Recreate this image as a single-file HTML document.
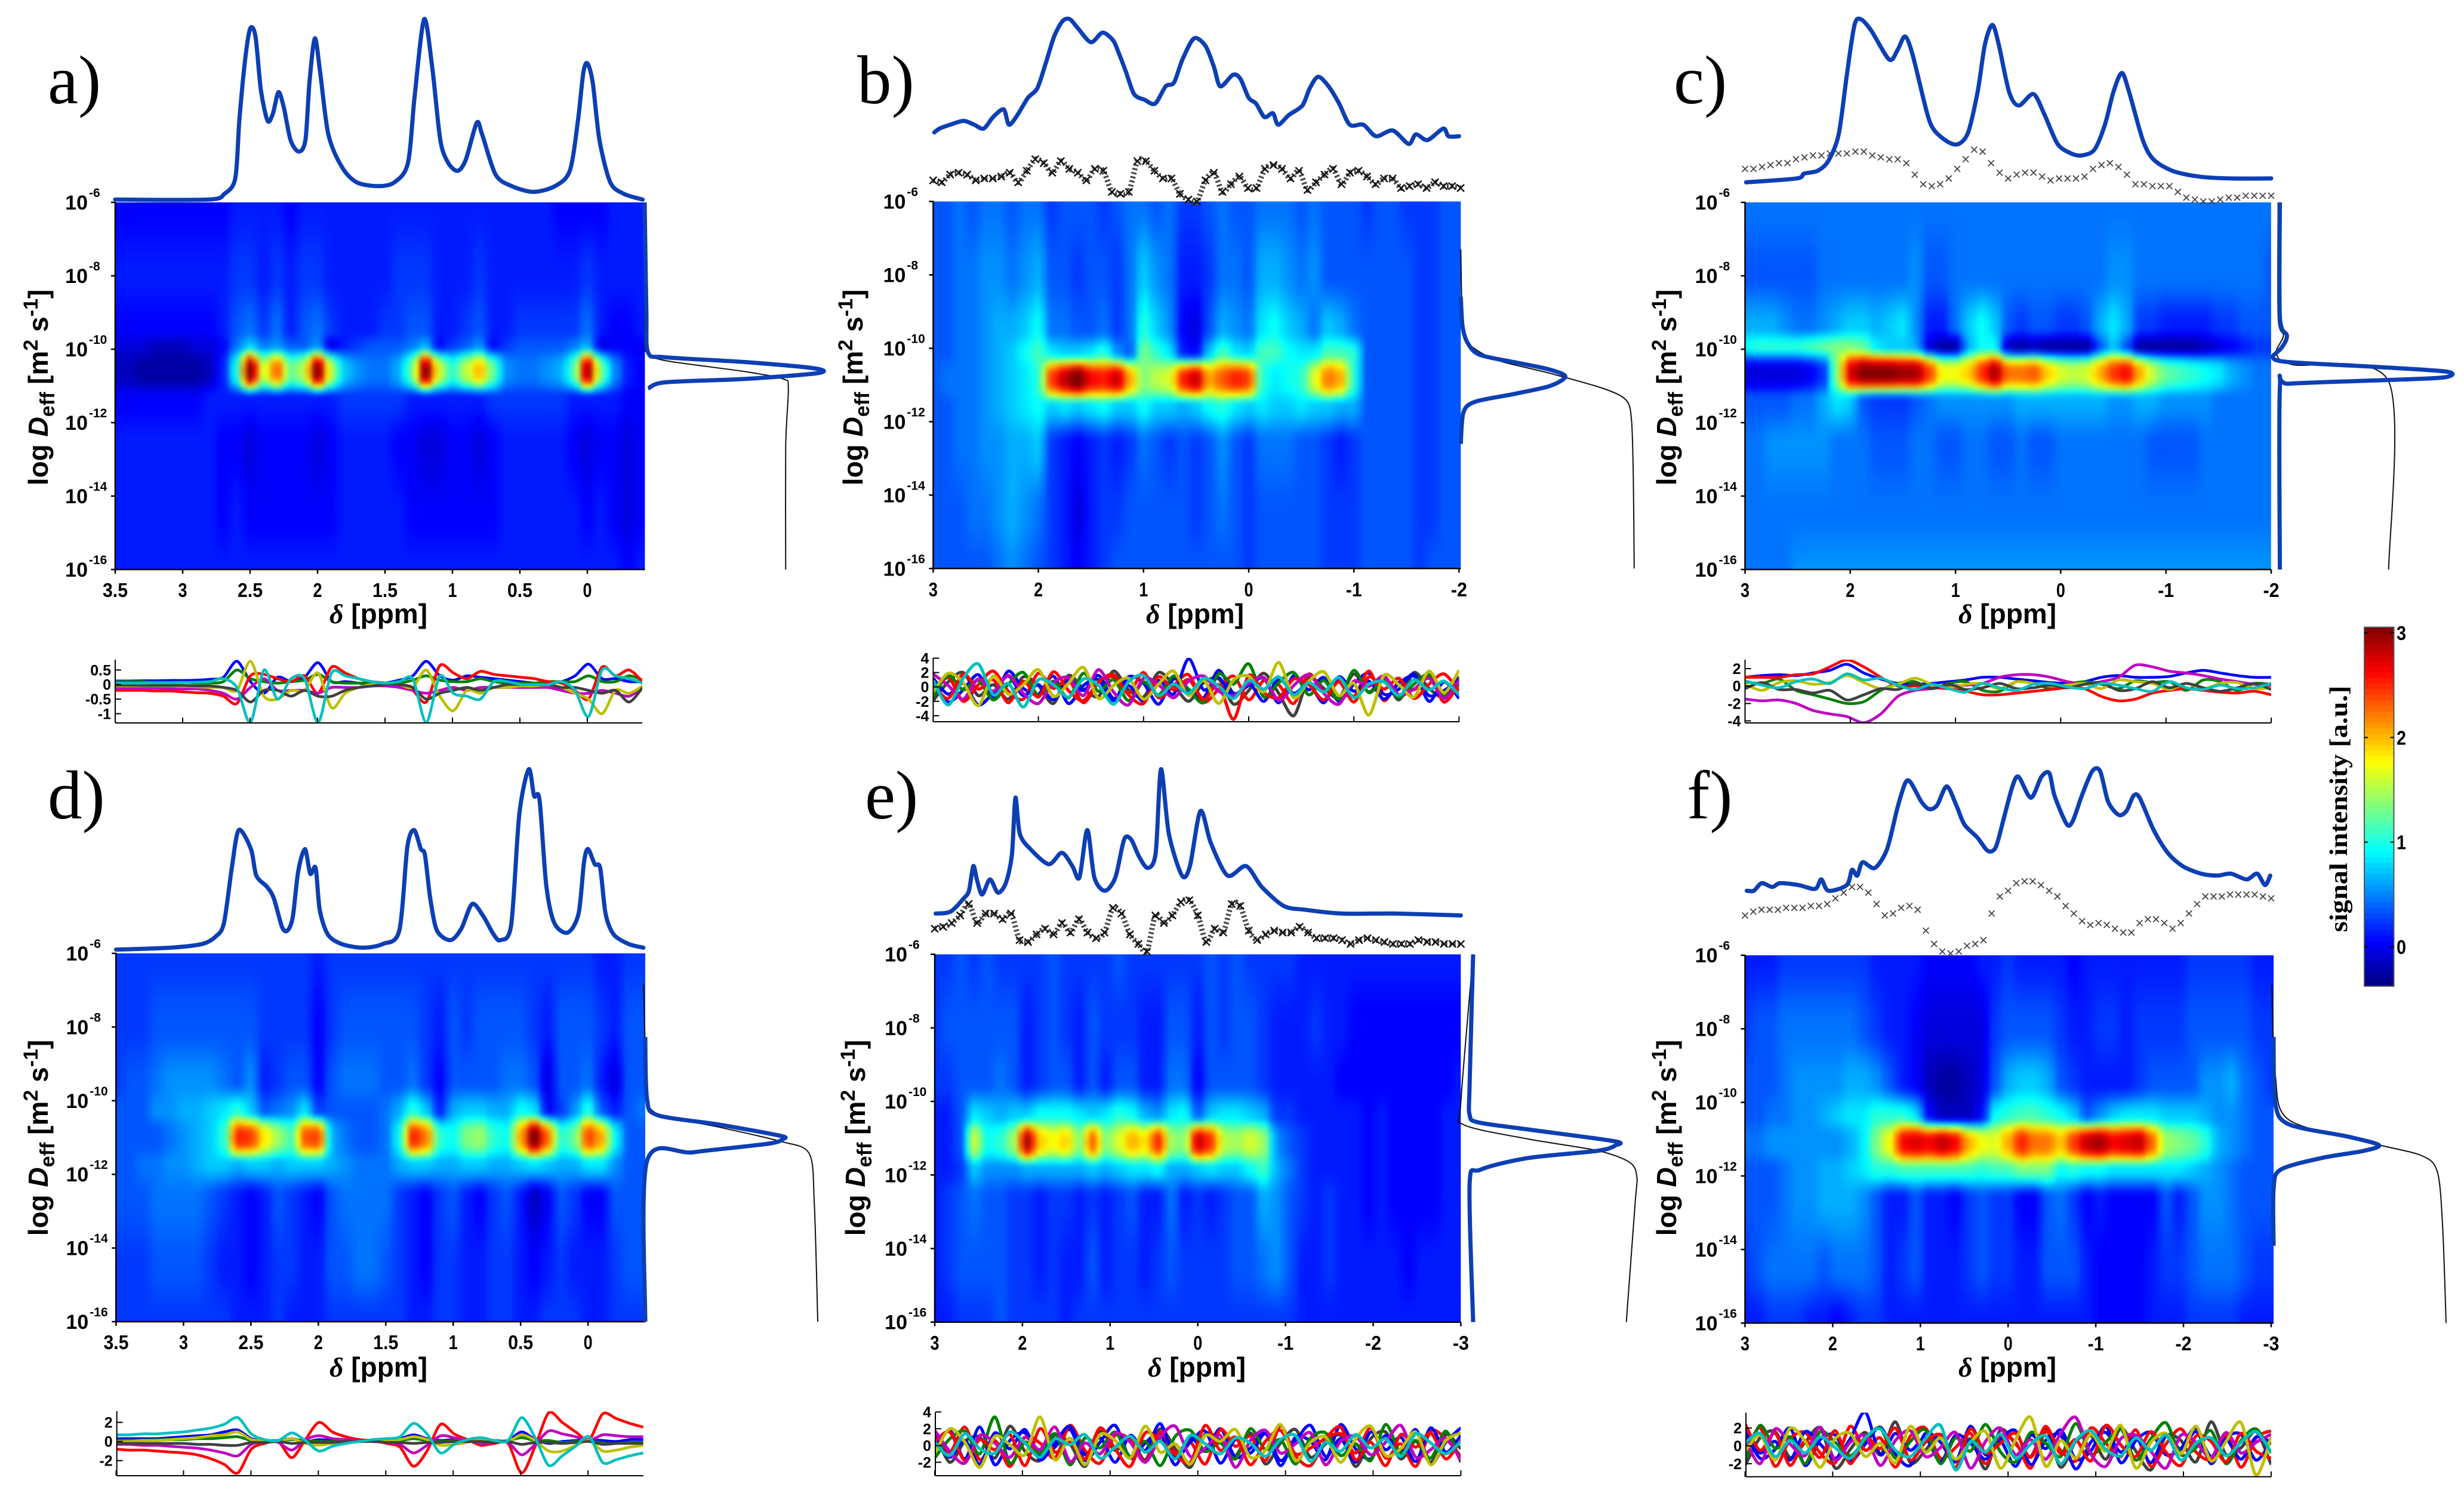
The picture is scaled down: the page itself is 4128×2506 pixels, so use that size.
<!DOCTYPE html>
<html lang="en">
<head>
<meta charset="utf-8">
<title>Diffusion-ordered NMR panels</title>
<style>
html,body{margin:0;padding:0;background:#fff}
svg{display:block}
text{font-family:"Liberation Sans",sans-serif}
</style>
</head>
<body>
<svg id="figure" xmlns="http://www.w3.org/2000/svg" width="4128" height="2506" viewBox="0 0 4128 2506">
<defs>
<filter id="soften" x="-5%" y="-5%" width="110%" height="110%" color-interpolation-filters="sRGB"><feGaussianBlur stdDeviation="4"/></filter>
</defs>
<rect width="4128" height="2506" fill="#fff"/>
</svg>
<script>
/* ---------- shared tick labels ---------- */
const decadeTicks=[-6,-8,-10,-12,-14,-16];
const ppmTicksAD=[3.5,3,2.5,2,1.5,1,0.5,0];
const ppmTicksBC=[3,2,1,0,-1,-2];
const ppmTicksEF=[3,2,1,0,-1,-2,-3];
const colorbarTicks=[3,2,1,0];
const residualTicksA=[0.5,0,-0.5,-1];
const residualTicksB=[4,2,0,-2,-4];
const residualTicksC=[2,0,-2,-4];
const residualTicksD=[2,0,-2];
const residualTicksE=[4,2,0,-2];
const residualTicksF=[2,0,-2];
const lineColours=['#0000ff','#008000','#ff0000','#bf00bf','#bfbf00','#404040','#00bfbf'];
const noiseColours=['#404040','#0000ff','#ff0000','#0000ff','#008000','#ff0000','#bf00bf','#bfbf00','#00bfbf'];

/* ---------- panel a ---------- */
const specPpmA=[3.5,2.81,2.69,2.61,2.58,2.54,2.5,2.46,2.42,2.37,2.33,2.29,2.25,2.2,2.14,2.09,2.06,2.02,1.98,1.92,1.82,1.71,1.55,1.43,1.33,1.28,1.21,1.15,1.09,1.03,0.96,0.9,0.82,0.78,0.68,0.56,0.4,0.24,0.13,0.07,0.03,0,-0.04,-0.09,-0.17,-0.27,-0.41];
const specValA=[1,1,4,12,42,72,90,86,58,42,46,57,49,32,26,32,62,85,67,35,18,10,8,10,20,55,95,70,32,20,16,22,41,35,14,8,5,8,16,42,67,72,62,32,10,4,1];
const crossValA=[];
const blueLogA=[-6,-9,-10.09,-10.22,-10.35,-10.52,-10.65,-10.81,-10.9,-11.07];
const blueValA=[0,1,2,12,58,98,100,58,12,2];
const thinLogA=[-6,-9.63,-10.09,-10.31,-10.61,-10.81,-11.07,-12.64,-16];
const thinValA=[0,0,1.5,12,58,80,83,81.5,81.5];
const rowLogA=[-6,-8,-9.5,-9.9,-10.6,-11.3,-12.6,-14.5,-16];
const heatA=[
[0,0,0,0,0,0,0,0,0,1,1,1,1,0,1,1,1,1,1,1,1,1,1,1,1,1,1,1,1,1,1,1,1,0,0,0,0,1,1,1],
[1,1,1,1,1,1,1,1,1,2,2,1,2,1,2,2,1,1,1,1,1,2,2,2,1,1,1,2,1,1,1,1,1,1,1,2,1,1,1,1],
[0,0,0,0,0,0,0,0,1,3,4,2,4,1,3,4,2,1,1,1,2,2,3,3,1,1,2,3,1,1,2,2,2,2,2,4,1,0,0,1],
[-1,-1,-1,-2,-2,-2,-1,-1,0,4,7,4,5,3,3,5,-1,1,2,3,3,3,4,6,0,2,3,5,0,2,3,3,3,3,4,6,-1,0,0,0],
[-2,-2,-3,-3,-3,-3,-3,-2,1,10,31,15,23,12,15,31,15,7,5,4,4,6,12,31,16,10,15,20,12,5,4,4,5,6,11,30,13,5,1,0],
[0,0,0,0,0,0,0,1,1,1,1,1,1,1,1,1,1,2,2,2,2,2,1,1,1,1,1,1,2,2,2,2,2,2,1,1,1,1,0,0],
[1,1,1,1,1,1,1,1,0,0,-1,0,0,0,0,-1,0,1,1,1,1,0,0,-1,-1,0,0,-1,0,1,1,1,1,1,0,-1,0,0,-1,0],
[1,1,1,1,1,1,1,1,0,1,0,0,0,0,0,0,0,1,1,1,1,1,0,0,0,0,0,0,0,1,1,1,1,1,1,0,1,0,-1,0],
[1,1,1,1,1,1,1,1,1,1,1,1,1,1,1,1,1,1,1,1,1,1,1,1,1,1,1,1,1,1,1,1,1,1,1,1,1,1,0,1]];
const residualA=[
[.12,.12,.13,.13,.14,.14,.15,.18,.25,.8,.1,-.3,.25,.1,.25,.75,.1,.1,.05,0,.05,.15,.3,.8,.3,.15,.3,.25,.2,.15,.1,.05,.05,.1,.3,.7,.2,.2,.1,.1],
[.1,.1,.1,.08,.08,.08,.05,.05,.1,.5,.2,.1,.05,.1,.15,.35,.1,.05,.05,.05,.05,.05,.15,.3,.15,.1,.1,.2,.1,.05,.05,.05,.1,.1,.1,.3,.1,.1,.3,.15],
[-.2,-.2,-.2,-.22,-.22,-.25,-.28,-.3,-.4,-.65,.3,.35,.2,.1,.3,-.3,.6,.4,.2,.1,.05,-.05,-.2,-.6,.65,.4,.2,.45,.35,.3,.25,.2,.1,.05,-.2,-.5,.6,.3,.5,.1],
[-.12,-.12,-.12,-.12,-.14,-.15,-.15,-.2,-.3,-.5,-.1,.2,-.2,-.2,-.2,-.3,-.1,-.1,-.1,-.05,-.05,-.1,-.2,-.3,-.2,-.1,-.2,-.1,-.1,-.1,-.1,-.1,-.1,-.2,-.3,-.3,-.2,-.3,-.4,-.1],
[-.05,-.05,-.05,-.05,-.05,-.06,-.08,-.1,-.1,-.2,.8,-.4,-.5,-.2,-.2,.4,-.8,-.3,-.1,0,0,0,-.1,.5,-.4,-.9,-.2,-.3,-.1,-.1,-.05,-.05,0,-.1,-.3,-.5,-1,-.2,-.3,-.05],
[-.02,-.02,-.03,-.03,-.03,-.03,-.05,-.05,-.1,-.2,-.6,-.2,-.2,-.4,-.2,-.4,-.4,-.2,-.1,-.05,0,0,-.1,-.5,-.3,-.2,-.1,-.2,-.1,0,0,0,0,-.1,-.1,-.2,-.3,-.2,-.6,-.1],
[.05,.05,.05,.06,.06,.07,.08,.1,.2,-.1,-1.3,.5,-.5,.2,.2,-1.3,.4,.3,.2,.1,.05,.1,.2,-1.3,.3,-.3,-.4,-.5,.1,.1,0,0,0,.1,-.2,-1.1,.5,.3,.2,.05]];

/* ---------- panel b ---------- */
const specPpmB=[2.99,2.94,2.84,2.71,2.61,2.52,2.43,2.33,2.28,2.2,2.1,2.01,1.93,1.85,1.77,1.7,1.62,1.5,1.39,1.29,1.24,1.17,1.09,0.99,0.89,0.79,0.71,0.63,0.52,0.41,0.33,0.27,0.15,0.08,0,-0.07,-0.15,-0.23,-0.28,-0.38,-0.51,-0.58,-0.66,-0.76,-0.86,-0.96,-1.09,-1.21,-1.37,-1.52,-1.59,-1.7,-1.85,-1.9,-2];
const specValB=[36,38,40,42,40,38,44,48,40,45,54,59,72,86,94,95,90,83,88,84,78,68,56,53,51,60,62,74,85,81,70,60,66,64,54,51,44,46,40,45,50,59,65,60,51,40,40,34,37,30,35,32,38,34,34];
const crossValB=[11,10,14,15,14,11,12,12,13,15,10,16,22,20,15,21,17,15,11,17,16,5,4,5,21,21,16,12,12,4,1,0,11,15,5,9,13,7,7,17,19,17,12,16,6,10,14,17,9,15,16,13,9,12,12,7,8,9,7,10,8,8,7];
const blueLogB=[-8.6,-9.4,-9.86,-10.18,-10.4,-10.58,-10.77,-11.03,-11.25,-11.46,-11.75,-12.6];
const blueValB=[0,1,4,11,33,51,60,51,30,8,1.5,0];
const thinLogB=[-7.3,-9.4,-9.86,-10.31,-10.68,-11.1,-11.42,-12,-13.6,-16];
const thinValB=[0,1,4,20,51,82,95,98,99,99.5];
const rowLogB=[-6,-8,-9.5,-10.14,-10.84,-11.54,-12.6,-14.5,-16];
const heatB=[
[3,3,4,3,4,4,3,4,4,2,3,3,3,2,3,4,4,3,4,2,2,3,4,3,3,4,4,4,3,4,3,3,3,2,3,3,2,2,2,3,3],
[3,3,4,4,5,5,4,5,6,3,3,2,3,3,2,4,7,5,4,1,1,2,4,4,3,6,6,5,4,5,3,3,3,3,3,3,3,2,2,3,3],
[3,3,4,4,5,6,6,7,9,4,4,3,3,4,2,4,10,7,5,0,-1,3,6,5,4,8,9,7,6,4,7,6,4,3,3,3,3,2,2,3,3],
[3,3,4,4,5,6,7,9,11,8,7,7,8,10,5,3,13,10,8,1,0,7,11,8,7,11,11,9,8,8,11,11,10,3,3,3,3,2,2,3,3],
[3,4,4,4,5,6,7,8,10,24,28,31,26,25,28,20,13,15,16,25,28,20,23,25,24,10,8,9,10,16,22,20,10,3,3,3,3,2,2,3,3],
[3,3,4,4,5,6,7,8,9,7,8,7,8,9,7,7,9,7,7,6,7,9,10,8,7,8,7,7,8,7,7,6,6,3,3,3,3,2,2,3,3],
[3,3,4,4,5,5,6,6,7,2,1,0,1,2,1,2,4,3,2,3,2,3,5,3,2,4,4,4,3,3,2,1,2,3,3,3,3,2,2,3,3],
[3,3,3,4,4,5,6,5,4,2,1,-1,1,2,2,3,3,3,3,3,2,3,4,3,2,3,3,3,3,3,2,2,2,3,3,3,3,2,2,3,3],
[3,3,3,3,3,4,5,4,3,2,1,0,1,2,3,3,3,3,3,3,3,3,3,3,2,3,3,3,3,3,2,2,2,3,3,3,3,2,3,3,3]];
const residualB=[
[-1.9,.7,2,-1.2,.3,-1.7,1.4,.2,-2.3,1.6,-.3,-1.3,2.2,-.4,-1.4,2,.3,-2,.6,1.1,-2.4,-.5,1.9,-.9,-4,1.2,-.2,-1.5,1.8,-.7,1.2,-1.8,2,-.2,-1.4,1.4],
[.7,-2.1,-.4,1.7,-1.4,2.2,-.2,-1,1.5,-2.3,.2,1,-1.9,1.4,.5,-2.4,1.1,-.5,-1.5,2.3,-.9,.2,1.2,-2.2,1.6,-.4,1.3,-2,.4,1.9,-1,-.3,1.8,-2,.7,-1.6],
[-1.1,1.3,-2,.3,2.2,-.6,-1.7,1.9,-.2,1,-2.2,.6,1.4,-.9,2,-1.5,.2,1.7,-2.1,-.3,1.5,-1.8,.9,.3,-2.3,1.8,-.6,1,-1.3,2.2,-1.9,.7,-.4,1.5,-2.1,.4],
[1.2,-1,.5,-2.5,-.8,1.5,-1.2,.3,-1.8,1,-.5,1.6,-1.6,.2,-2,.9,-1,3.9,-.4,1.3,-1.5,.6,-2,1.1,-.9,.4,-2.2,1.4,-.6,.8,-1.7,.5,1.5,-1.2,-.5,1],
[-1.4,1.6,-.4,.9,-1.8,.4,2,-1.2,.8,-1.5,1.9,-.6,1,-1.9,.7,-1.1,1.5,-.3,-2.2,1.8,.4,3.2,-1.4,.6,2,-1.1,.9,-1.7,2.3,-.8,1,-1.5,.4,1.7,-1.3,.5],
[.4,-1.6,1.8,-.3,1,-2.2,.8,-1.4,2.1,-.5,-1.9,.7,1.7,-1.1,-2.3,1.4,-.4,1,-1.7,.3,-4.5,1.6,-.8,-1.5,1.1,.3,-1.8,.7,-2.1,1.4,-.3,1.2,-1.6,.4,1.8,-.6],
[1.8,.2,-1.7,1.1,-.6,1.6,-.9,-2.3,.6,1.3,-1.2,2.4,-.7,-2.5,1.2,.3,-1.5,.8,1.5,-.6,-1.2,.5,1.3,-1.9,.2,1.7,-.9,-2.4,.8,.1,1.5,-1.1,-.3,1.2,-1.6,.9],
[-.7,1.9,.6,-2.6,1.5,-1,.3,2.4,-1.3,.5,2.7,-1.6,.2,1.2,-1.7,.4,2.2,-1.2,.9,-2.3,1,1.5,-.7,3.4,-1.5,.8,2.1,-1.2,.5,-3.9,1.6,.3,-1.4,2.2,-.8,2.3],
[.9,-2.5,1.2,3.2,-1.1,.5,-2.8,1,.3,-1.4,1.1,.2,-2.4,.7,1.6,-1.2,.4,-.9,1.2,.1,-1.6,.9,-.3,1.4,-1.1,.6,-.7,1.3,-1.5,.4,.7,-1.2,1,-.4,.8,-1.1]];

/* ---------- panel c ---------- */
const specPpmC=[2.99,2.51,2.44,2.31,2.21,2.11,2.03,1.96,1.9,1.8,1.63,1.55,1.48,1.41,1.27,1.2,1.07,0.97,0.88,0.79,0.72,0.65,0.59,0.49,0.4,0.26,0.16,0.03,-0.1,-0.2,-0.32,-0.42,-0.5,-0.58,-0.65,-0.78,-0.88,-1.06,-1.31,-1.61,-2];
const specValC=[10,12,14.5,16,21,35,67,92,95,89,74,79,86,77,46,37,31,30,36,57,82,92,82,57,50,56,46,30,25,24,27,40,57,67,57,32,22,16,13,12,12];
const crossValC=[17,17,18,19,20,20,22,23,24,24,25,25,25,26,26,24,23,22,22,20,14,9,8,9,12,17,22,27,26,20,15,12,14,15,15,13,11,12,12,12,13,17,19,20,18,14,9,9,8,8,8,5,2,1,0,0,1,2,2,3,3,3,3];
const blueLogC=[-6,-9.11,-9.63,-9.96,-10.22,-10.35,-10.48,-10.61,-10.77,-10.85,-10.94,-11.07,-16];
const blueValC=[5,5,9,6,1,10,59,100,98,59,10,5,5];
const thinLogC=[-6,-9.11,-9.63,-10.09,-10.42,-10.88,-16];
const thinValC=[4,4,7,3,12,67,67];
const rowLogC=[-6,-8,-9.4,-9.95,-10.65,-11.35,-12.6,-14.5,-16];
const heatC=[
[4,4,4,4,4,4,4,4,4,4,4,4,4,4,4,4,4,4,4,4,4,4,4,4,4,4,4,4,4,4,4,4,4,4,4,4,4,4,4,4,4],
[3,3,3,3,3,3,4,4,4,4,4,4,4,5,3,3,4,4,4,4,4,4,4,4,4,4,4,4,5,5,4,4,4,4,4,4,4,4,4,4,3],
[6,6,6,5,4,4,5,6,7,7,6,7,8,5,1,1,4,7,9,7,3,2,3,3,2,2,3,6,8,6,2,2,1,1,1,1,2,2,3,3,3],
[9,10,10,10,10,11,12,13,13,12,8,7,7,6,-1,-3,-3,6,9,9,-2,-3,-2,-3,-3,-3,-3,3,7,3,-3,-3,-3,-3,-3,-2,-1,0,1,2,2],
[-1,-1,-1,-1,-1,0,2,14,27,30,30,30,29,29,24,17,17,19,24,29,22,22,23,19,16,15,16,20,24,26,20,15,12,11,10,9,8,6,5,4,4],
[3,3,3,3,4,4,6,8,7,3,2,2,2,3,4,5,5,5,5,5,5,6,6,6,6,6,6,6,5,5,6,6,5,5,5,5,4,4,4,4,4],
[4,4,5,5,5,5,5,4,4,4,3,3,3,4,4,3,3,4,4,3,3,4,3,3,4,4,4,4,4,4,4,3,3,3,3,4,4,4,4,4,4],
[4,4,4,4,4,4,4,4,4,4,4,4,4,4,4,4,4,4,4,4,4,4,4,4,4,4,4,4,4,4,4,4,4,4,4,4,4,4,4,4,4],
[4,4,4,4,5,5,5,5,5,5,5,5,5,5,5,5,5,5,5,5,5,5,5,5,5,5,5,5,5,5,5,5,5,5,5,5,5,5,5,5,5]];
const residualC=[
[1,1.2,1.3,1.2,1.5,1.8,2.5,1.5,.8,.3,.2,.3,.5,.7,1,1,.8,.6,.4,.3,.5,1,1.2,1,1,1.1,1.5,1.8,1.5,1.2,1,1],
[.5,.3,.8,-.5,-1,-1.5,-2,-1.8,-.5,.3,.5,-.3,.3,.5,-.5,-.6,.5,.3,-.3,.2,.5,.2,-.3,.6,.4,.5,-.5,.7,.5,-.5,.3,.2],
[1,1,1,1.3,1.4,2.2,3,2.2,1,0,0,-.2,-.3,-.6,-1,-1,-.8,-.6,-.4,-.2,-.3,-1.2,-1.7,-1.5,-.8,-.5,-.3,-.5,-.7,-.8,-.6,-1],
[-1.5,-1.7,-1.6,-2,-2.8,-3.2,-3.5,-4.2,-3.2,-1.2,-.5,-.3,0,.1,.3,1,1.3,1.3,1,.5,.2,.5,1,2.4,2.2,1.7,1.5,1.2,.8,.5,.2,.1],
[.2,-.5,.4,.6,.2,.4,1.2,.4,-.3,.2,.9,.2,-.2,.2,.3,-.3,.5,.3,0,.1,.3,-.3,.7,.5,.3,-.4,.3,-.3,.3,.4,-.3,-.2],
[-.3,.4,-.4,-.4,-.8,-.5,-1.6,-1,-.3,-.4,.3,-.3,.2,-.4,-.2,.3,-.3,-.2,.1,-.2,.2,.4,-.5,-.3,.5,-.2,.3,-.2,-.6,-.2,.3,-.4],
[.6,.1,-.2,.5,.8,.3,1.4,.7,.9,.1,-.4,.2,-.3,-.7,.3,-.2,-.5,.2,.3,-.1,-.3,.3,.1,-.3,-.6,.5,-.2,-.4,.1,-.3,-.2,.3]];

/* ---------- panel d ---------- */
const specPpmD=[3.5,3.1,2.86,2.76,2.7,2.64,2.59,2.5,2.46,2.38,2.33,2.27,2.23,2.19,2.15,2.1,2.06,2.02,1.99,1.93,1.83,1.67,1.52,1.4,1.34,1.29,1.24,1.21,1.17,1.12,1.02,0.94,0.86,0.78,0.7,0.65,0.57,0.51,0.44,0.4,0.36,0.31,0.25,0.15,0.07,0.03,0,-0.05,-0.09,-0.13,-0.19,-0.3,-0.41];
const specValD=[1,2,4,8,15,45,64,54,40,34,28,13,11,18,42,54,41,44,22,9,4,2,4,11,55,64,54,51,28,11,6,12,25,19,9,6,14,72,96,82,80,35,15,10,20,47,54,46,44,20,9,4,2];
const crossValD=[];
const blueLogD=[-8.27,-9.94,-10.39,-10.65,-10.95,-11.04,-11.17,-11.4,-11.64,-16];
const blueValD=[0,1,7,43,78,80,71,28,1,0];
const thinLogD=[-6.85,-9.56,-10.33,-10.72,-11.1,-11.43,-12.78,-16];
const thinValD=[-1,1,6,43,78,95,98,100];
const rowLogD=[-6,-8,-9.5,-10.3,-11,-11.7,-12.6,-14.5,-16];
const heatD=[
[2,2,2,2,2,2,2,2,2,2,2,2,2,2,2,1,2,2,2,2,2,2,2,2,2,2,2,2,2,2,2,2,2,2,2,2,1,1,2,2],
[2,2,2,3,3,3,3,3,3,3,3,2,2,2,2,0,2,3,3,3,3,3,3,2,1,3,2,3,3,3,3,2,1,3,3,3,2,1,3,3],
[2,3,3,4,5,5,5,5,4,3,5,1,2,3,3,0,3,4,4,4,3,3,4,2,0,3,3,3,3,4,4,3,-1,3,3,4,1,-1,3,3],
[3,3,3,5,5,6,6,7,8,10,7,3,4,5,8,2,3,3,3,3,4,6,10,7,1,6,7,7,6,6,9,8,0,2,5,10,3,1,3,4],
[3,3,3,3,4,5,6,7,10,25,24,18,14,11,23,24,6,4,3,3,4,9,25,22,10,9,13,14,10,9,20,31,22,10,12,24,20,9,3,3],
[3,3,4,4,5,5,6,7,7,6,7,7,6,7,7,7,6,5,4,4,4,6,7,7,6,6,7,7,6,6,7,8,7,6,6,8,8,5,3,3],
[3,3,3,4,4,4,4,3,2,1,0,1,3,2,1,0,3,4,4,4,4,2,1,0,2,3,1,0,2,3,1,-2,0,3,2,0,0,3,3,3],
[2,2,2,3,3,3,3,2,1,1,0,1,2,2,1,1,3,3,4,4,3,2,1,0,2,2,1,1,2,2,1,0,1,2,1,1,1,2,3,3],
[2,2,2,2,2,2,2,2,2,1,1,1,2,1,1,1,2,2,2,2,2,2,1,1,2,2,1,1,2,2,1,1,2,2,2,1,1,2,2,2]];
const residualD=[
[.3,.3,.3,.3,.4,.5,.6,.7,1,1.2,.3,.1,.1,.3,0,.2,.1,.1,.1,.1,.2,.3,.7,.3,.1,.2,.1,.2,.1,.1,1,.2,-.2,0,.1,.2,.1,0,.2,.2],
[.15,.15,.15,.2,.2,.2,.3,.3,.4,.5,.1,.1,.1,.2,.1,0,0,.1,0,.1,.1,.1,.3,.1,0,.1,.1,.2,0,.1,.4,.1,.1,-.1,0,.1,-.2,-.2,-.1,-.1],
[-.8,-.9,-.9,-1,-1.1,-1.2,-1.4,-1.8,-2.4,-3.3,-.8,-.2,0,-1.7,.2,2,1,.5,.2,.1,-.2,-.6,-2.6,-1,1.8,.8,.2,-.4,-.2,-.2,-3.3,-.5,3,2,1,.2,2.9,2.4,1.9,1.5],
[-.3,-.3,-.4,-.4,-.5,-.6,-.7,-.9,-1.2,-1.5,-.3,0,-.1,-.9,.2,.6,.3,.2,.1,0,-.1,-.3,-1.2,-.4,.6,.4,.1,-.2,-.1,-.1,-1.4,-.3,1.1,.8,.5,.1,.7,.6,.5,.5],
[0,0,.1,.1,.2,.3,.4,.6,.7,1,.2,.1,0,.3,-.2,-.4,-.2,-.1,0,0,.1,.2,.5,.2,-.4,-.3,-.1,.2,0,0,.7,.1,-1,-1,-.4,.1,-1,-.9,-.6,-.4],
[-.2,-.2,-.2,-.2,-.2,-.2,-.3,-.3,-.4,-.4,-.1,-.1,0,-.2,-.1,-.1,-.1,0,0,0,-.1,-.1,-.2,-.1,-.1,0,0,0,-.1,0,-.3,-.1,-.1,-.2,-.1,0,-.3,-.2,-.2,-.2],
[.7,.7,.8,.8,.9,1,1.2,1.4,1.8,2.5,.8,.2,.1,.9,.1,-1,-.5,-.2,0,.2,.3,.5,1.9,.8,-1.2,-.3,.2,.4,.1,.1,2.5,.4,-2.5,-1.5,-.5,.5,-2.2,-1.9,-1.5,-1.2]];

/* ---------- panel e ---------- */
const specPpmE=[2.99,2.82,2.67,2.61,2.56,2.52,2.46,2.37,2.28,2.19,2.12,2.08,2.03,1.91,1.7,1.55,1.43,1.35,1.26,1.18,1.06,0.94,0.84,0.76,0.67,0.57,0.48,0.42,0.33,0.18,0.09,-0.03,-0.15,-0.34,-0.55,-0.73,-0.98,-1.22,-1.64,-2.25,-3];
const specValE=[20,21,28,32,45,38,30,38,31,36,51,81,62,54,46,52,45,39,64,39,32,39,59,59,50,44,52,96,62,40,45,74,57,40,45,34,24,22,20,20,19];
const crossValE=[12,13,15,19,25,15,20,20,17,20,6,5,9,12,9,15,10,17,10,7,10,23,20,9,4,0,19,15,19,26,27,19,5,12,10,25,24,11,6,9,11,10,10,13,10,7,7,7,6,4,6,7,6,5,4,4,4,6,5,5,4,4,4];
const blueLogE=[-6,-9.54,-10.37,-10.57,-10.76,-11.08,-11.19,-11.34,-11.54,-11.86,-12.25,-16];
const blueValE=[7,5,5,10,38,87,88,78,38,11,5,7];
const thinLogE=[-6,-10.05,-10.63,-11.02,-11.34,-11.66,-12.05,-12.76,-16];
const thinValE=[7,0,1.5,38,78,96,100,99,94];
const rowLogE=[-6,-8,-9.5,-10.4,-11.1,-11.8,-12.6,-14.5,-16];
const heatE=[
[2,2,3,2,3,2,2,2,2,3,2,2,2,2,3,2,2,2,2,2,2,3,2,3,2,2,2,2,1,1,1,1,1,1,1,1,1,1,1,1,1],
[2,3,3,3,3,3,3,1,2,3,2,1,3,2,2,2,1,1,3,3,1,3,2,3,3,2,1,1,1,2,1,1,0,0,0,0,0,0,0,0,0],
[2,2,3,3,3,4,3,1,2,3,3,1,3,1,3,3,1,1,4,4,0,3,3,3,3,2,1,1,1,1,1,0,0,0,0,0,0,0,0,0,1],
[1,1,3,8,7,6,7,7,9,9,9,8,7,8,10,9,6,5,8,9,3,7,8,8,7,6,2,2,1,1,1,1,1,0,1,0,0,0,0,1,1],
[1,1,3,16,9,10,14,29,19,17,19,13,23,13,16,20,18,25,14,13,28,24,15,14,16,14,5,3,2,1,1,1,1,0,1,0,0,0,0,1,1],
[1,1,2,7,5,5,5,6,6,6,6,6,7,6,7,8,8,9,6,6,7,8,7,7,9,11,6,4,2,1,1,1,1,0,1,0,0,0,0,1,1],
[1,2,3,4,3,3,2,2,1,2,2,1,2,1,2,3,1,1,4,1,2,1,2,3,3,6,5,3,2,1,2,1,1,0,1,0,0,0,0,1,1],
[1,2,3,3,3,3,2,2,1,2,1,1,3,1,2,2,1,2,3,2,2,2,2,3,3,4,5,3,1,1,2,1,1,1,1,1,0,1,1,1,1],
[1,1,2,2,2,3,2,2,2,2,1,2,2,2,2,2,2,2,2,2,2,2,2,2,2,2,2,2,1,1,1,1,1,1,1,1,1,1,1,1,1]];
const residualE=[
[1.6,-2,.5,1,-1.5,2.3,-.7,-1.8,1.3,.2,-2.5,1.7,-.6,.9,-1.7,2,-.4,-2.6,1.4,.6,-1.2,1.5,-2.2,.3,1.9,-1.4,.2,1.2,-2.5,.8,1.6,-1.6,.5,-2,1.3,-.4],
[-.5,1.8,-1.6,2.2,-2.3,.6,1.5,-1.2,-.2,1.9,-1.8,.4,2.4,-1.5,.3,1.4,-2.3,.9,-.7,2,-1.4,-.3,1.6,-2.4,1,.5,-1.7,2.5,-.4,-1.6,1.2,-.8,1.9,-2.2,.4,2.1],
[1.2,-.8,2.2,-1.7,.6,-2.5,1,.3,-1.5,2.4,-.6,-2.1,1.2,.7,-1.9,1.6,-.8,.4,-2.2,1.9,-.1,1.1,-1.8,2.3,-1.2,-2.4,.6,1.4,-.9,2.1,-1.5,.2,-2.5,1.7,.8,-1.3],
[1.1,-1.4,.6,-2.2,1.5,-.4,1.9,-1.7,.3,2.3,-1.1,.9,-2,1.2,-.6,2.6,-1.5,.4,1.7,-2.1,.7,-.9,1.4,-1.8,.5,2.4,-1.3,.8,-2,1.6,-.5,1,-1.9,2.1,-.8,1.2],
[-1.5,.8,1.7,-1,3.4,-2.1,.4,-.9,1.4,-2.3,.9,-.3,1.6,-1.3,.5,-2.4,1.1,1.8,-.7,.3,-1.6,2,-.5,.7,-2.2,.9,1.5,-1.2,.2,-1.8,2.5,-.9,.6,-1.5,1.7,-2],
[.5,1.6,-1.8,.7,-.5,1.3,-2.4,2,-.8,.4,-1.6,2.1,-.4,-2.5,1.5,.6,-1.1,-2,2.4,-.6,1,-2.3,.5,1.8,-1,-.3,.9,2.2,-1.7,.4,-2.4,1.3,-.2,1.5,-1.6,.7],
[1.8,-.7,-2.1,1.2,.3,-1.4,1,-.5,2.2,-1.9,.3,-1,1.5,.4,-2,1,2.3,-1.3,-.3,1.2,-2.6,.6,1.8,-.9,.2,1.5,-2.3,.5,1.1,-1.1,.4,2.4,-1.4,-.5,.9,-1.8],
[-.9,2,.4,-2.6,1.1,.1,-1.1,3.4,-1.7,.9,-2.3,1.3,.6,-1.5,2.3,-.8,.2,-2.2,1.2,.5,1.9,-1.4,-.6,2.5,-1.8,.4,1,-2,.8,2.3,-1.2,-.4,1.6,-2.3,.6,1.5],
[.4,-1.2,1.4,-.4,-.9,1.6,.3,-1.4,.8,.1,1.3,-1.5,-.2,1.1,-.8,.5,-1.6,1.2,.2,-1,.9,.3,-1.3,.7,1.2,-1.9,.4,-.7,1.3,-.3,.8,-1.3,1.4,.3,-1,.5]];

/* ---------- panel f ---------- */
const specPpmF=[2.98,2.9,2.81,2.69,2.6,2.39,2.2,2.13,2.05,1.84,1.78,1.72,1.66,1.52,1.38,1.26,1.17,1.11,0.99,0.9,0.81,0.7,0.59,0.5,0.35,0.23,0.14,0.05,-0.05,-0.12,-0.26,-0.38,-0.47,-0.53,-0.67,-0.74,-0.84,-0.96,-1.05,-1.14,-1.26,-1.35,-1.43,-1.5,-1.66,-1.82,-1.99,-2.2,-2.39,-2.54,-2.72,-2.84,-2.93,-2.99];
const specValF=[32,32,36,34,36,35,33,38,32,35,43,40,47,44,54,76,89,89,79,75,77,87,77,67,60,53,55,70,87,92,81,92,94,82,67,69,82,95,95,79,72,74,82,81,64,52,45,41,40,41,38,41,35,40];
const crossValF=[19,21,22,22,22,23,23,23,24,24,25,28,31,34,34,31,25,19,20,23,24,22,11,4,0,-1,0,3,4,6,20,29,32,36,37,37,35,32,29,24,20,16,14,15,14,12,10,10,15,17,17,15,12,15,20,25,29,29,29,30,30,30,30,29,28];
const blueLogF=[-8.22,-10.03,-10.6,-10.93,-11.16,-11.32,-11.51,-11.83,-12.35,-13.9];
const blueValF=[0,1,9,43,61,52,28,4,0,0];
const thinLogF=[-6.8,-9.25,-10.48,-11.12,-11.45,-11.9,-13.38,-16];
const thinValF=[-1,1,9,58,86,95,98,100];
const rowLogF=[-6,-8,-9.5,-10.4,-11.1,-11.8,-12.6,-14.5,-16];
const heatF=[
[1,1,1,2,2,2,2,2,2,2,1,1,1,1,0,0,0,0,1,1,2,1,1,1,1,0,1,1,1,1,1,1,1,1,2,2,2,2,2,1,1],
[2,3,3,4,4,4,4,4,4,3,2,1,1,0,-1,-1,-1,-1,-1,2,3,3,3,3,2,1,1,2,2,1,2,2,2,2,3,3,3,3,3,2,2],
[3,3,3,4,5,5,5,5,6,6,5,3,1,0,-2,-3,-3,-2,-1,3,6,7,7,6,3,2,1,1,1,1,2,3,3,3,3,5,5,6,4,3,2],
[3,3,4,4,5,5,6,7,8,8,10,10,10,8,0,-2,-2,-2,0,9,10,11,11,10,9,7,3,5,7,8,8,8,7,7,7,6,5,5,4,3,3],
[4,4,5,5,5,5,5,5,6,8,13,17,26,27,26,28,26,20,17,16,20,25,22,22,19,24,28,29,26,27,28,22,14,13,12,10,6,5,4,3,3],
[3,3,3,4,5,5,6,6,7,8,10,10,11,11,11,11,11,11,10,11,11,13,13,13,9,10,9,9,8,8,8,8,8,8,7,6,5,4,3,3,3],
[3,3,3,4,5,5,6,6,6,5,3,1,1,3,1,1,0,2,3,2,2,0,0,3,4,2,0,1,0,0,0,0,3,1,3,5,5,4,3,3,3],
[2,3,4,4,4,4,3,4,4,4,3,1,2,3,1,1,1,2,3,2,2,1,1,3,3,3,1,0,0,0,0,1,2,2,3,4,4,4,3,2,2],
[1,1,2,2,2,1,1,0,1,2,2,1,1,1,1,1,1,1,1,1,1,1,1,1,1,1,1,0,0,0,0,1,1,1,2,2,2,2,1,1,1]];
const residualF=[
[-2.2,.9,1.6,-1.3,.4,2,-2.5,-.4,1.5,-1,2.7,-1.9,-.5,1.3,-1.6,.8,-2.6,1.8,.2,-1.2,1.9,-2.4,.5,1.2,-1.5,2,-.6,-2.7,1.1,.6,-1.8,2.7,-1,-.2,1.6,-2.1],
[1.7,-1.4,-.4,2,-2.2,.7,1.2,-1.7,.2,2.1,-.9,-2.2,1.4,.4,-1.8,2.2,-1,.5,-2.3,1.2,-.3,1.8,-1.5,-.6,2.2,-1.9,.6,1.5,-1,-.3,2,-2,.9,1.3,-1.6,.5],
[-.9,2,-2.3,.8,1.5,-.8,-1.9,2.2,-.5,.9,-2.4,1.1,2,-1.4,-.2,1.4,-2,1,.4,-2.5,1.6,-.5,-1.7,2,.3,-1.2,1.8,-2.3,.2,1.9,-.7,-1.5,1.2,-2.4,.9,1.7],
[1.3,-.8,.5,-1.6,1.6,.2,-1.4,.8,3.8,-1,1.4,-.5,.9,-1.8,1.2,.3,-1.5,.7,1.7,-2.1,.6,1.2,-2.6,.4,1.5,-.7,1,-1.9,1.3,-.4,1.6,-1.2,.7,-1.5,1,.4],
[-1.7,2.3,-.3,1,-2,1.6,.4,-1.1,.7,2,-1.4,.5,1.8,-2,.9,-.6,2.4,-.7,-1.8,1.5,.3,-1.2,2.5,-.9,.4,1.9,-1.6,.8,2.6,-1,-.2,1.7,-2,.6,1.9,-.8],
[2.5,-.5,1.4,-2.2,.6,-1.3,1.7,-2,1,-.3,2,-1.6,.4,1.2,-2.4,1.9,-.8,.3,1.4,-1.3,2.2,-.9,.7,-1.7,2.3,.1,-1.2,1.6,-.7,-2.2,1.1,.5,-1.8,1.4,-.6,-1.4],
[.8,-2,1.9,.2,-1.1,2.1,-1.6,.4,1.1,-2.2,.6,1.7,-1.2,-.2,1.5,-2.5,.5,2,-1,.7,-1.5,1.4,3.2,-.9,-2.3,.8,1.2,-.6,-2.5,1.2,.4,-1.3,1.5,-.8,.4,1.3],
[-.6,1.2,-1.6,2,.5,-2.4,.8,1.4,-1.2,.3,-1.9,2.2,-.7,.9,-1.5,.4,1.6,-2.5,.7,3.2,-2.3,.6,-1.4,1.3,-.6,2.3,-2.5,.4,1.4,-.9,2.2,-1.7,.5,2.6,-3.3,1],
[.3,1.4,-1.2,.6,-.8,1,-.2,-1.4,.9,1.9,-.5,-1.2,.8,2.3,-2.7,.5,-.7,1.3,-1.4,.2,1.1,-2,.6,1.7,-.4,-1.1,.9,-.5,1.2,-1.6,.3,.9,-1.1,.4,1.6,-.7]];

/* ---------- layout (page geometry only) ---------- */
const panels=[
{id:'a',x0:193,x1:1080.4,y0:339,y1:954,p0:3.5,pxP0:193,pxPerPpm:226,colStart:3.5,colStep:.1,ticks:ppmTicksAD,top0:337.5,topH:321.4,projX:1080,projW:290,
 resX0:193,resX1:1076,resY0:1105,resY1:1211,resZero:1146.7,resUnit:48.8,resTicks:residualTicksA,resStart:3.5,resEnd:-.41,
 letterX:80,letterY:173,titleY:649,titleX:80,labelX:634,labelY:1044,tickY:1000,
 spP:specPpmA,spV:specValA,cr:crossValA,crEnd:-.43,bL:blueLogA,bV:blueValA,tL:thinLogA,tV:thinValA,rows:rowLogA,heat:heatA,res:residualA},
{id:'b',x0:1563.4,x1:2447.3,y0:337.5,y1:952.3,p0:3,pxP0:1563.4,pxPerPpm:176.2,colStart:3,colStep:.125,ticks:ppmTicksBC,top0:337.5,topH:321.4,projX:2447.3,projW:292,
 resX0:1563.4,resX1:2444.6,resY0:1102,resY1:1209,resZero:1150.7,resUnit:12.05,resTicks:residualTicksB,resStart:3,resEnd:-2,
 letterX:1436,letterY:173,titleY:649,titleX:1445,labelX:2002,labelY:1044,tickY:999,
 spP:specPpmB,spV:specValB,cr:crossValB,crEnd:-2.015,crDense:true,bL:blueLogB,bV:blueValB,tL:thinLogB,tV:thinValB,rows:rowLogB,heat:heatB,res:residualB},
{id:'c',x0:2923.5,x1:3804.8,y0:339,y1:954,p0:3,pxP0:2923.5,pxPerPpm:176.3,colStart:3,colStep:.125,ticks:ppmTicksBC,top0:337.5,topH:321.4,projX:3804.8,projW:294,
 resX0:2923.5,resX1:3804.8,resY0:1105,resY1:1211,resZero:1149.2,resUnit:14.6,resTicks:residualTicksC,resStart:3,resEnd:-2,
 letterX:2804,letterY:173,titleY:649,titleX:2808,labelX:3363,labelY:1044,tickY:1000,
 spP:specPpmC,spV:specValC,cr:crossValC,crEnd:-2,bL:blueLogC,bV:blueValC,tL:thinLogC,tV:thinValC,rows:rowLogC,heat:heatC,res:residualC},
{id:'d',x0:194.3,x1:1081,y0:1597,y1:2214,p0:3.5,pxP0:194.5,pxPerPpm:225.9,colStart:3.5,colStep:.1,ticks:ppmTicksAD,top0:1593.9,topH:318,projX:1081,projW:289,
 resX0:195.7,resX1:1077.7,resY0:2364,resY1:2472,resZero:2414.7,resUnit:16,resTicks:residualTicksD,resStart:3.5,resEnd:-.41,
 letterX:80,letterY:1371,titleY:1906,titleX:80,labelX:634,labelY:2306,tickY:2260,
 spP:specPpmD,spV:specValD,cr:crossValD,crEnd:-.43,bL:blueLogD,bV:blueValD,tL:thinLogD,tV:thinValD,rows:rowLogD,heat:heatD,res:residualD},
{id:'e',x0:1566,x1:2447.3,y0:1598.6,y1:2214.7,p0:3,pxP0:1566,pxPerPpm:146.9,colStart:3,colStep:.15,ticks:ppmTicksEF,top0:1593.9,topH:318,projX:2447.3,projW:295,
 resX0:1567,resX1:2447,resY0:2366,resY1:2472,resZero:2421.4,resUnit:14.04,resTicks:residualTicksE,resStart:3,resEnd:-3,
 letterX:1449,letterY:1371,titleY:1906,titleX:1449,labelX:2005,labelY:2306,tickY:2261,
 spP:specPpmE,spV:specValE,cr:crossValE,crEnd:-3,crDense:true,bL:blueLogE,bV:blueValE,tL:thinLogE,tV:thinValE,rows:rowLogE,heat:heatE,res:residualE},
{id:'f',x0:2923.5,x1:3809,y0:1600.2,y1:2216.3,p0:3,pxP0:2923.5,pxPerPpm:146.9,colStart:3,colStep:.15,ticks:ppmTicksEF,top0:1593.9,topH:318,projX:3809,projW:289,
 resX0:2925,resX1:3805,resY0:2366.5,resY1:2473.8,resZero:2422,resUnit:14.9,resTicks:residualTicksF,resStart:3,resEnd:-3,
 letterX:2826,letterY:1371,titleY:1906,titleX:2808,labelX:3363,labelY:2306,tickY:2262,
 spP:specPpmF,spV:specValF,cr:crossValF,crEnd:-3,bL:blueLogF,bV:blueValF,tL:thinLogF,tV:thinValF,rows:rowLogF,heat:heatF,res:residualF}
];

const NS='http://www.w3.org/2000/svg';
const root=document.getElementById('figure');
const Z_MIN=-.375,Z_MAX=3.05;

function mk(tag,attrs,parent){
  const el=document.createElementNS(NS,tag);
  for(const k in attrs)el.setAttribute(k,attrs[k]);
  parent.appendChild(el);
  return el;
}
function jet(z){
  const t=Math.max(0,Math.min(1,(z-Z_MIN)/(Z_MAX-Z_MIN)));
  const c=v=>Math.round(255*Math.max(0,Math.min(1,v)));
  return 'rgb('+c(1.5-Math.abs(4*t-3))+','+c(1.5-Math.abs(4*t-2))+','+c(1.5-Math.abs(4*t-1))+')';
}
function sm(u){return u*u*(3-2*u);}
function flat(u){return sm(Math.pow(u,1.5));}
/* smooth curve through data points (Catmull-Rom, low tension) */
function curve(pts){
  let d='M'+pts[0][0].toFixed(1)+' '+pts[0][1].toFixed(1);
  const k=1/7;
  for(let i=0;i<pts.length-1;i++){
    const p0=pts[Math.max(0,i-1)],p1=pts[i],p2=pts[i+1],p3=pts[Math.min(pts.length-1,i+2)];
    d+='C'+(p1[0]+(p2[0]-p0[0])*k).toFixed(1)+' '+(p1[1]+(p2[1]-p0[1])*k).toFixed(1)+' '+(p2[0]-(p3[0]-p1[0])*k).toFixed(1)+' '+(p2[1]-(p3[1]-p1[1])*k).toFixed(1)+' '+p2[0].toFixed(1)+' '+p2[1].toFixed(1);
  }
  return d;
}
function heatValue(p,ppm,logD){
  const r=p.heat,rows=p.rows;
  const n=r[0].length;
  let fc=(p.colStart-ppm)/p.colStep;
  fc=Math.max(0,Math.min(n-1,fc));
  const c0=Math.min(n-2,Math.floor(fc)),cu=sm(fc-c0);
  let r0=0;
  while(r0<rows.length-2&&logD<rows[r0+1])r0++;
  let u=(rows[r0]-logD)/(rows[r0]-rows[r0+1]);
  u=Math.max(0,Math.min(1,u));
  let ru;
  if(r0===3)ru=1-flat(1-u);
  else if(r0===4)ru=flat(u);
  else ru=sm(u);
  const a=r[r0][c0]*(1-cu)+r[r0][c0+1]*cu;
  const b=r[r0+1][c0]*(1-cu)+r[r0+1][c0+1]*cu;
  return (a*(1-ru)+b*ru+.4)/10;
}

panels.forEach(function(p){
  const xScale=ppm=>p.pxP0+(p.p0-ppm)*p.pxPerPpm;
  const invX=x=>p.p0-(x-p.pxP0)/p.pxPerPpm;
  const yScale=l=>p.y0+(-6-l)*(p.y1-p.y0)/10;
  const invY=y=>-6-(y-p.y0)*10/(p.y1-p.y0);
  const topY=v=>p.top0-v/100*p.topH;
  const projX=v=>p.projX+v/100*p.projW;
  const resY=v=>p.resZero-v*p.resUnit;

  const g=mk('g',{},root);
  
  

  /* panel letter */
  const letter=mk('text',{x:p.letterX,y:p.letterY,'font-size':115,style:'font-family:"Liberation Serif",serif',fill:'#000'},g);
  
  
  letter.textContent=p.id+')';

  /* heatmap */
  const clip=mk('clipPath',{id:'clip-'+p.id},root.querySelector('defs'));
  mk('rect',{x:p.x0,y:p.y0,width:p.x1-p.x0,height:p.y1-p.y0},clip);
  const clipG=mk('g',{'clip-path':'url(#clip-'+p.id+')'},g);
  
  
  const heatG=mk('g',{filter:'url(#soften)','shape-rendering':'crispEdges'},clipG);
  const CW=10,CH=8;
  for(let x=p.x0-20;x<p.x1+20;x+=CW){
    for(let y=p.y0-16;y<p.y1+16;y+=CH){
      const z=heatValue(p,invX(x+CW/2),invY(y+CH/2));
      const cell=mk('rect',{x:x,y:y,width:CW+1,height:CH+1,fill:jet(z)},heatG);
      
      
    }
  }

  /* axes */
  const axL=mk('line',{x1:p.x0,x2:p.x0,y1:p.y0-1,y2:p.y1+1,stroke:'#000','stroke-width':2.5},g);
  
  
  const axB=mk('line',{x1:p.x0,x2:p.x1,y1:p.y1,y2:p.y1,stroke:'#000','stroke-width':2.5},g);
  
  

  decadeTicks.forEach(function(d){
    const y=yScale(d);
    const t=mk('line',{x1:p.x0-7,x2:p.x0,y1:y,y2:y,stroke:'#000','stroke-width':2.5},g);
    
    
    const lab=mk('text',{x:p.x0-46,y:y+12,'text-anchor':'end','font-size':34,'font-weight':'bold',fill:'#000'},g);
    
    
    lab.textContent='10';
    const sup=mk('text',{x:p.x0-44,y:y-9,'font-size':21,'font-weight':'bold',fill:'#000'},g);
    
    
    sup.textContent=String(d);
  });
  p.ticks.forEach(function(v){
    const x=xScale(v);
    const t=mk('line',{x1:x,x2:x,y1:p.y1,y2:p.y1+7,stroke:'#000','stroke-width':2.5},g);
    
    
    const lab=mk('text',{x:x,y:p.tickY,'text-anchor':'middle','font-size':33,'font-weight':'bold',fill:'#000',textLength:String(v).length>1?(String(v).length>2?42:27):15,lengthAdjust:'spacingAndGlyphs'},g);
    
    
    lab.textContent=String(v);
  });

  /* axis titles */
  const yt=mk('text',{transform:'translate('+p.titleX+','+p.titleY+') rotate(-90)','text-anchor':'middle','font-size':46,'font-weight':'bold',fill:'#000'},g);
  
  
  yt.innerHTML='log <tspan font-style="italic">D</tspan><tspan dy="11" font-size="34">eff</tspan><tspan dy="-11"> [m</tspan><tspan dy="-17" font-size="34">2</tspan><tspan dy="17"> s</tspan><tspan dy="-17" font-size="34">-1</tspan><tspan dy="17">]</tspan>';
  const xt=mk('text',{x:p.labelX,y:p.labelY,'text-anchor':'middle','font-size':46,'font-weight':'bold',fill:'#000'},g);
  
  
  xt.innerHTML='<tspan font-style="italic" style="font-family:\'Liberation Serif\',serif">δ</tspan> [ppm]';

  /* cross trace above the heatmap */
  if(p.cr.length){
    const xAt=i=>xScale(p.p0+(p.crEnd-p.p0)*i/(p.cr.length-1));
    const s=p.crDense?6:5;
    if(p.crDense){
      const tr=mk('path',{d:curve(p.cr.map((v,i)=>[xAt(i),topY(v)])),fill:'none',stroke:'#444','stroke-width':9,'stroke-dasharray':'3 4'},g);
      
      
    }
    p.cr.forEach(function(v,i){
      const x=xAt(i),y=topY(v);
      const m=mk('path',{d:'M'+(x-s)+' '+(y-s)+'L'+(x+s)+' '+(y+s)+'M'+(x-s)+' '+(y+s)+'L'+(x+s)+' '+(y-s),fill:'none',stroke:p.crDense?'#111':'#444','stroke-width':p.crDense?2.4:1.8},g);
      
      
    });
  }

  /* top spectrum */
  const spec=mk('path',{d:curve(p.spP.map((q,i)=>[xScale(q),topY(p.spV[i])])),fill:'none',stroke:'#0d3fb4','stroke-width':7,'stroke-linejoin':'round','stroke-linecap':'round'},g);
  
  

  /* right-hand projections */
  const thin=mk('path',{d:curve(p.tL.map((l,i)=>[projX(p.tV[i]),yScale(l)])),fill:'none',stroke:'#111','stroke-width':2},g);
  
  
  const blue=mk('path',{d:curve(p.bL.map((l,i)=>[projX(p.bV[i]),yScale(l)])),fill:'none',stroke:'#0d3fb4','stroke-width':7,'stroke-linejoin':'round'},g);
  
  

  /* residual traces */
  const rc=mk('clipPath',{id:'res-clip-'+p.id},root.querySelector('defs'));
  mk('rect',{x:p.resX0,y:p.resY0,width:p.resX1-p.resX0,height:p.resY1-p.resY0},rc);
  const resG=mk('g',{'clip-path':'url(#res-clip-'+p.id+')'},g);
  
  
  const resColours=p.res.length===7?lineColours:noiseColours;
  p.res.forEach(function(series,k){
    const n=series.length;
    const pts=series.map((v,i)=>[xScale(p.resStart+(p.resEnd-p.resStart)*i/(n-1)),resY(v)]);
    const l=mk('path',{d:curve(pts),fill:'none',stroke:resColours[k],'stroke-width':n===36?5.2:4.6,'stroke-linejoin':'round'},resG);
    
    
  });
  const rl=mk('line',{x1:p.resX0,x2:p.resX0,y1:p.resY0,y2:p.resY1,stroke:'#000','stroke-width':2},g);
  
  
  const rb=mk('line',{x1:p.resX0,x2:p.resX1,y1:p.resY1,y2:p.resY1,stroke:'#000','stroke-width':2},g);
  
  
  p.resTicks.forEach(function(v){
    const y=resY(v);
    const t=mk('line',{x1:p.resX0,x2:p.resX0+10,y1:y,y2:y,stroke:'#000','stroke-width':2},g);
    
    
    const lab=mk('text',{x:p.resX0-7,y:y+9,'text-anchor':'end','font-size':25,'font-weight':'bold',fill:'#000'},g);
    
    
    lab.textContent=String(v);
  });
  p.ticks.forEach(function(v){
    const x=xScale(v);
    const t=mk('line',{x1:x,x2:x,y1:p.resY1-9,y2:p.resY1,stroke:'#000','stroke-width':2},g);
    
    
  });
});

/* ---------- colour bar ---------- */
(function(){
  const X0=3961,X1=4010.5,Y0=1050.7,Y1=1652,LEVELS=64;
  const yAt=z=>1586-z*175.3;
  const g=mk('g',{},root);
  
  
  for(let i=0;i<LEVELS;i++){
    const zHi=Z_MAX-(Z_MAX-Z_MIN)*i/LEVELS,zLo=Z_MAX-(Z_MAX-Z_MIN)*(i+1)/LEVELS;
    const top=Math.max(Y0,yAt(zHi)),bot=Math.min(Y1,yAt(zLo));
    const r=mk('rect',{x:X0,y:top,width:X1-X0,height:bot-top+.6,fill:jet((zHi+zLo)/2),'shape-rendering':'crispEdges'},g);
    
    
  }
  const box=mk('rect',{x:X0,y:Y0,width:X1-X0,height:Y1-Y0,fill:'none',stroke:'#555','stroke-width':2},g);
  
  
  colorbarTicks.forEach(function(v){
    const y=yAt(v);
    const a=mk('line',{x1:X0,x2:X0+6,y1:y,y2:y,stroke:'#000','stroke-width':2},g);
    
    
    const b=mk('line',{x1:X1-6,x2:X1,y1:y,y2:y,stroke:'#000','stroke-width':2},g);
    
    
    const t=mk('text',{x:4015,y:y+12,'font-size':33,'font-weight':'bold',fill:'#000',textLength:16,lengthAdjust:'spacingAndGlyphs'},g);
    
    
    t.textContent=String(v);
  });
  const title=mk('text',{transform:'translate(3932,1355) rotate(-90)','text-anchor':'middle','font-size':42,'font-weight':'bold',style:'font-family:"Liberation Serif",serif',fill:'#000',textLength:413,lengthAdjust:'spacingAndGlyphs'},g);
  
  
  title.textContent='signal intensity [a.u.]';
})();
</script>
</body>
</html>
